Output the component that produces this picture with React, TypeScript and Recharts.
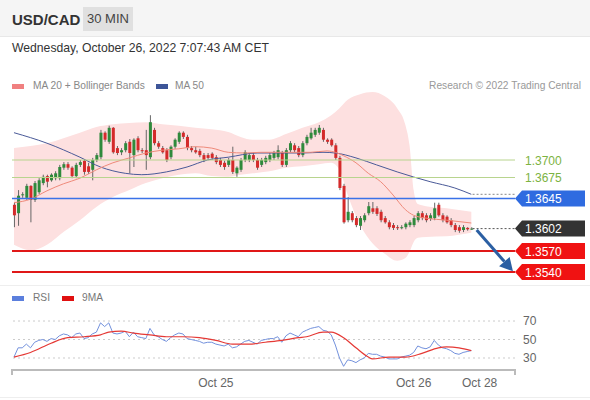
import { Area, Bar, ComposedChart, Line, ReferenceLine, XAxis, YAxis } from 'recharts'

// 30 min candles, Oct 24 -> Oct 26 07:00
const opens = [
  1.3636, 1.3624, 1.3650, 1.3646, 1.3663, 1.3643, 1.3654, 1.3667, 1.3677, 1.3671,
  1.3674, 1.3674, 1.3689, 1.3694, 1.3689, 1.3677, 1.3693, 1.3699, 1.3691, 1.3686,
  1.3700, 1.3704, 1.3739, 1.3726, 1.3746, 1.3717, 1.3711, 1.3714, 1.3726, 1.3707,
  1.3731, 1.3714, 1.3714, 1.3704, 1.3743, 1.3724, 1.3717, 1.3714, 1.3704, 1.3719,
  1.3726, 1.3739, 1.3733, 1.3717, 1.3714, 1.3713, 1.3707, 1.3707, 1.3709, 1.3704,
  1.3700, 1.3696, 1.3693, 1.3700, 1.3681, 1.3686, 1.3700, 1.3700, 1.3707, 1.3700,
  1.3693, 1.3697, 1.3700, 1.3703, 1.3704, 1.3710, 1.3693, 1.3714, 1.3721, 1.3717,
  1.3707, 1.3724, 1.3731, 1.3736, 1.3739, 1.3743, 1.3729, 1.3729, 1.3721, 1.3703,
  1.3663, 1.3614, 1.3624, 1.3617, 1.3606, 1.3614, 1.3624, 1.3631, 1.3631, 1.3626,
  1.3617, 1.3611, 1.3607, 1.3604, 1.3603, 1.3604, 1.3607, 1.3607, 1.3614, 1.3624,
  1.3621, 1.3616, 1.3617, 1.3636, 1.3621, 1.3619, 1.3614, 1.3607, 1.3604, 1.3600,
  1.3603, 1.3601,
]
const highs = [
  1.3639, 1.3657, 1.3654, 1.3666, 1.3664, 1.3670, 1.3674, 1.3679, 1.3679, 1.3681,
  1.3684, 1.3693, 1.3697, 1.3697, 1.3691, 1.3696, 1.3700, 1.3701, 1.3696, 1.3703,
  1.3710, 1.3743, 1.3741, 1.3749, 1.3747, 1.3720, 1.3717, 1.3727, 1.3730, 1.3731,
  1.3734, 1.3717, 1.3743, 1.3764, 1.3746, 1.3727, 1.3720, 1.3717, 1.3721, 1.3731,
  1.3741, 1.3741, 1.3736, 1.3720, 1.3719, 1.3716, 1.3710, 1.3710, 1.3711, 1.3707,
  1.3703, 1.3699, 1.3703, 1.3719, 1.3691, 1.3703, 1.3714, 1.3710, 1.3710, 1.3703,
  1.3703, 1.3706, 1.3710, 1.3713, 1.3721, 1.3713, 1.3717, 1.3727, 1.3724, 1.3720,
  1.3727, 1.3736, 1.3746, 1.3746, 1.3750, 1.3746, 1.3731, 1.3731, 1.3724, 1.3706,
  1.3666, 1.3647, 1.3627, 1.3620, 1.3620, 1.3624, 1.3640, 1.3640, 1.3634, 1.3629,
  1.3620, 1.3614, 1.3610, 1.3607, 1.3607, 1.3611, 1.3614, 1.3620, 1.3627, 1.3627,
  1.3624, 1.3624, 1.3639, 1.3639, 1.3624, 1.3621, 1.3617, 1.3610, 1.3607, 1.3607,
  1.3604, 1.3604,
]
const lows = [
  1.3604, 1.3606, 1.3646, 1.3643, 1.3611, 1.3640, 1.3651, 1.3664, 1.3661, 1.3669,
  1.3671, 1.3671, 1.3686, 1.3686, 1.3674, 1.3674, 1.3690, 1.3679, 1.3680, 1.3671,
  1.3697, 1.3701, 1.3726, 1.3723, 1.3709, 1.3707, 1.3707, 1.3711, 1.3681, 1.3690,
  1.3711, 1.3710, 1.3686, 1.3701, 1.3721, 1.3716, 1.3709, 1.3697, 1.3701, 1.3716,
  1.3723, 1.3730, 1.3714, 1.3711, 1.3709, 1.3704, 1.3697, 1.3700, 1.3700, 1.3694,
  1.3690, 1.3686, 1.3690, 1.3680, 1.3676, 1.3683, 1.3697, 1.3697, 1.3697, 1.3686,
  1.3690, 1.3694, 1.3697, 1.3700, 1.3701, 1.3690, 1.3690, 1.3711, 1.3711, 1.3704,
  1.3704, 1.3721, 1.3729, 1.3733, 1.3736, 1.3726, 1.3723, 1.3719, 1.3700, 1.3657,
  1.3609, 1.3611, 1.3611, 1.3604, 1.3600, 1.3611, 1.3621, 1.3623, 1.3620, 1.3611,
  1.3609, 1.3601, 1.3600, 1.3600, 1.3601, 1.3601, 1.3604, 1.3604, 1.3611, 1.3614,
  1.3611, 1.3613, 1.3614, 1.3619, 1.3611, 1.3609, 1.3604, 1.3597, 1.3596, 1.3597,
  1.3599, 1.3600,
]
const closes = [
  1.3621, 1.3649, 1.3651, 1.3663, 1.3643, 1.3667, 1.3671, 1.3676, 1.3669, 1.3679,
  1.3681, 1.3690, 1.3694, 1.3689, 1.3677, 1.3693, 1.3697, 1.3683, 1.3683, 1.3700,
  1.3707, 1.3739, 1.3729, 1.3746, 1.3711, 1.3710, 1.3714, 1.3724, 1.3710, 1.3729,
  1.3714, 1.3713, 1.3707, 1.3754, 1.3724, 1.3719, 1.3711, 1.3700, 1.3719, 1.3729,
  1.3739, 1.3733, 1.3717, 1.3714, 1.3711, 1.3707, 1.3700, 1.3703, 1.3703, 1.3697,
  1.3693, 1.3690, 1.3700, 1.3683, 1.3689, 1.3700, 1.3711, 1.3707, 1.3700, 1.3689,
  1.3700, 1.3703, 1.3707, 1.3710, 1.3714, 1.3693, 1.3714, 1.3724, 1.3714, 1.3707,
  1.3724, 1.3733, 1.3739, 1.3743, 1.3746, 1.3729, 1.3726, 1.3721, 1.3703, 1.3660,
  1.3611, 1.3626, 1.3614, 1.3607, 1.3617, 1.3621, 1.3634, 1.3626, 1.3623, 1.3614,
  1.3611, 1.3604, 1.3603, 1.3603, 1.3604, 1.3609, 1.3611, 1.3617, 1.3624, 1.3617,
  1.3614, 1.3621, 1.3631, 1.3621, 1.3614, 1.3611, 1.3607, 1.3600, 1.3599, 1.3604,
  1.3601, 1.3602,
]

// Bollinger bands (read at a subset of candles)
const bandIdx = [0, 4, 8, 12, 16, 20, 24, 28, 32, 36, 40, 44, 48, 52, 55, 58, 62, 66, 70, 74, 77, 79, 81, 84, 87, 90, 93, 95, 96, 97, 98, 100, 105, 111]
const bandUpper = [1.3717, 1.3720, 1.3724, 1.3731, 1.3739, 1.3747, 1.3751, 1.3753, 1.3754, 1.3751, 1.3749, 1.3746, 1.3744, 1.3740, 1.3733, 1.3729, 1.3729, 1.3737, 1.3746, 1.3754, 1.3764, 1.3774, 1.3786, 1.3794, 1.3797, 1.3791, 1.3774, 1.3750, 1.3721, 1.3657, 1.3637, 1.3634, 1.3631, 1.3626]
const bandLower = [1.3579, 1.3571, 1.3579, 1.3597, 1.3614, 1.3633, 1.3647, 1.3657, 1.3667, 1.3674, 1.3679, 1.3681, 1.3677, 1.3676, 1.3679, 1.3681, 1.3684, 1.3689, 1.3691, 1.3694, 1.3696, 1.3686, 1.3650, 1.3607, 1.3581, 1.3566, 1.3556, 1.3560, 1.3569, 1.3583, 1.3589, 1.3590, 1.3591, 1.3596]

const ma20Idx = [0, 4, 8, 12, 16, 20, 24, 28, 32, 36, 40, 44, 48, 52, 56, 60, 66, 72, 76, 78, 80, 83, 86, 89, 92, 95, 97, 100, 105, 111]
const ma20 = [1.3639, 1.3644, 1.3656, 1.3666, 1.3674, 1.3686, 1.3696, 1.3703, 1.3710, 1.3714, 1.3716, 1.3719, 1.3717, 1.3711, 1.3710, 1.3711, 1.3711, 1.3711, 1.3713, 1.3711, 1.3706, 1.3696, 1.3681, 1.3669, 1.3650, 1.3629, 1.3621, 1.3617, 1.3614, 1.3610]

const ma50Idx = [0, 8, 16, 21, 27, 31, 37, 42, 47, 52, 59, 70, 75, 78, 83, 88, 93, 101, 107, 111]
const ma50 = [1.3739, 1.3724, 1.3704, 1.3690, 1.3681, 1.3679, 1.3683, 1.3690, 1.3700, 1.3704, 1.3710, 1.3710, 1.3711, 1.3710, 1.3703, 1.3693, 1.3683, 1.3669, 1.3660, 1.3651]

const rsi = [
  31, 41, 41, 45, 41, 47, 49, 50, 48, 51, 50, 54, 56, 55, 52, 56, 57, 51, 52, 56,
  58, 68, 64, 68, 57, 56, 57, 59, 53, 58, 53, 52, 51, 62, 55, 53, 50, 48, 52, 55,
  57, 56, 51, 50, 49, 48, 46, 47, 47, 45, 44, 43, 45, 41, 42, 45, 48, 49, 47, 45,
  49, 50, 51, 51, 53, 47, 54, 57, 55, 53, 58, 60, 62, 63, 64, 60, 59, 55, 44, 30,
  21, 28, 27, 25, 28, 30, 35, 34, 34, 32, 31, 29, 29, 29, 31, 32, 33, 36, 43, 41,
  40, 42, 49, 44, 41, 40, 38, 35, 34, 36, 37, 38,
]
const ma9Idx = [0, 4, 9, 13, 17, 21, 23, 26, 29, 33, 37, 41, 45, 49, 53, 57, 61, 65, 69, 71, 75, 77, 80, 83, 86, 87, 91, 95, 99, 103, 105, 108, 111]
const ma9 = [31, 36, 46, 52, 53, 55, 58, 59, 57, 55, 53, 53, 52, 49, 45, 45, 47, 49, 52, 53, 58, 58, 52, 41, 31, 29, 31, 31, 35, 41, 42, 41, 38]

const tickIdx = [49, 97, 113]
const tickLabels = ['Oct 25', 'Oct 26', 'Oct 28']
const rsiTicks = [30, 50, 70]

const LAST = 111
const X_MIN = -0.485
const X_MAX = 121.6

const candles = opens.map((o, i) => ({ i, open: o, high: highs[i], low: lows[i], close: closes[i] }))
const bandData = bandIdx.map((i, k) => ({ i, band: [bandLower[k], bandUpper[k]] }))
const ma20Data = ma20Idx.map((i, k) => ({ i, v: ma20[k] }))
const ma50Data = ma50Idx.map((i, k) => ({ i, v: ma50[k] }))
const rsiData = rsi.map((v, i) => ({ i, v }))
const ma9Data = ma9Idx.map((i, k) => ({ i, v: ma9[k] }))

const FONT = "Arial, 'Liberation Sans', sans-serif"
const GREEN = '#2f8a3c'
const RED = '#d42a2a'

function Candle(props: any) {
  const { x, y, width, height } = props
  const d = props.payload || props
  const top = Math.min(y, y + height)
  const h = Math.abs(height)
  const cx = x + width / 2
  const k = d.high === d.low ? 0 : h / (d.high - d.low)
  const py = (v: number) => top + (d.high - v) * k
  const bTop = py(Math.max(d.open, d.close))
  const bBot = py(Math.min(d.open, d.close))
  const up = d.close >= d.open
  return (
    <g>
      <line x1={cx} x2={cx} y1={top} y2={top + h} stroke="#666" strokeWidth={1} />
      <rect x={cx - 1.5} y={bTop} width={3} height={Math.max(1, bBot - bTop)} fill={up ? GREEN : RED} />
    </g>
  )
}

const tag = (text: string, fill: string) => (p: any) => {
  const vb = p.viewBox
  const x0 = vb.x + vb.width
  const yc = vb.y
  return (
    <g>
      <polygon points={`${x0},${yc} ${x0 + 7},${yc - 8} ${x0 + 70},${yc - 8} ${x0 + 70},${yc + 8} ${x0 + 7},${yc + 8}`} fill={fill} />
      <text x={x0 + 10} y={yc + 4.5} fill="#fff" fontSize={12} fontFamily={FONT}>{text}</text>
    </g>
  )
}

const plainLabel = (text: string, color: string) => (p: any) => {
  const vb = p.viewBox
  return (
    <text x={vb.x + vb.width + 10} y={vb.y + 4.5} fill={color} fontSize={12} fontFamily={FONT}>{text}</text>
  )
}

const arrowShape = (p: any) => {
  const { x1, y1, x2, y2 } = p
  const a = Math.atan2(y2 - y1, x2 - x1)
  const hl = 13
  const hw = 7
  const bx = x2 - hl * Math.cos(a)
  const by = y2 - hl * Math.sin(a)
  const nx = -Math.sin(a) * hw
  const ny = Math.cos(a) * hw
  return (
    <g>
      <line x1={x1} y1={y1} x2={bx} y2={by} stroke="#2b5fa3" strokeWidth={3} />
      <polygon points={`${x2},${y2} ${bx + nx},${by + ny} ${bx - nx},${by - ny}`} fill="#2b5fa3" />
    </g>
  )
}

function Swatch({ left, top, color }: { left: number; top: number; color: string }) {
  return <div style={{ position: 'absolute', left, top, width: 12, height: 5, background: color }} />
}

function Txt({ left, top, size, color, children, right }: any) {
  return (
    <div style={{ position: 'absolute', left, right, top, fontSize: size, color, whiteSpace: 'nowrap', lineHeight: 1 }}>
      {children}
    </div>
  )
}

export default function App() {
  return (
    <div style={{ position: 'absolute', left: 0, top: 0, width: 590, height: 400, background: '#fff', overflow: 'hidden', fontFamily: FONT }}>
      <div style={{ position: 'absolute', left: 0, top: 0, width: 590, height: 36, background: '#f5f5f5', borderBottom: '1px solid #e8e8e8' }} />
      <Txt left={12} top={12} size={15} color="#333"><b>USD/CAD</b></Txt>
      <div style={{ position: 'absolute', left: 83, top: 7, width: 50, height: 24, background: '#e0e0e0', color: '#444', fontSize: 13, lineHeight: '24px', textAlign: 'center' }}>30 MIN</div>
      <Txt left={12} top={42} size={12.2} color="#333">Wednesday, October 26, 2022 7:07:43 AM CET</Txt>

      <Swatch left={12} top={84} color="#f08080" />
      <Txt left={33} top={81} size={10.2} color="#888">MA 20 + Bollinger Bands</Txt>
      <Swatch left={156} top={84} color="#3d5598" />
      <Txt left={175} top={81} size={10.2} color="#888">MA 50</Txt>
      <Txt right={9} top={81} size={10.2} color="#999">Research © 2022 Trading Central</Txt>

      <div style={{ position: 'absolute', left: 0, top: 80 }}>
        <ComposedChart width={590} height={215} data={candles} margin={{ top: 10, right: 75, bottom: 9, left: 12 }}>
          <XAxis dataKey="i" type="number" domain={[X_MIN, X_MAX]} allowDataOverflow hide />
          <YAxis type="number" domain={[1.352, 1.38]} allowDataOverflow hide />
          <Area data={bandData} dataKey="band" type="monotone" stroke="none" fill="#fde0e0" fillOpacity={1} isAnimationActive={false} />
          <Line data={ma50Data} dataKey="v" type="monotone" stroke="#4a5a98" strokeWidth={1} dot={false} isAnimationActive={false} />
          <Line data={ma20Data} dataKey="v" type="monotone" stroke="#ef8a7a" strokeWidth={1} dot={false} isAnimationActive={false} />
          <ReferenceLine y={1.37} stroke="#b8d48e" strokeWidth={1} label={plainLabel('1.3700', '#7cb342')} />
          <ReferenceLine y={1.3675} stroke="#b8d48e" strokeWidth={1} label={plainLabel('1.3675', '#7cb342')} />
          <ReferenceLine y={1.3645} stroke="#3a72e8" strokeWidth={1.5} label={tag('1.3645', '#2f6be0')} />
          <ReferenceLine y={1.357} stroke="#e01818" strokeWidth={2} label={tag('1.3570', '#f01212')} />
          <ReferenceLine y={1.354} stroke="#e01818" strokeWidth={2} label={tag('1.3540', '#f01212')} />
          <ReferenceLine y={closes[LAST]} stroke="none" label={tag(closes[LAST].toFixed(4), '#333')} />
          <ReferenceLine segment={[{ x: LAST + 0.3, y: closes[LAST] }, { x: X_MAX, y: closes[LAST] }]} stroke="#555" strokeDasharray="2 2" />
          <ReferenceLine segment={[{ x: LAST + 0.3, y: ma50[ma50.length - 1] }, { x: X_MAX, y: ma50[ma50.length - 1] }]} stroke="#888" strokeDasharray="2 2" />
          <Bar dataKey={(d: any) => [d.low, d.high]} barSize={3} shape={<Candle />} isAnimationActive={false} />
          <ReferenceLine segment={[{ x: 112.3, y: 1.36 }, { x: 121.1, y: 1.3541 }]} shape={arrowShape} />
        </ComposedChart>
      </div>

      <div style={{ position: 'absolute', left: 0, top: 285, width: 590, height: 1, background: '#eee' }} />

      <Swatch left={12} top={296} color="#5b7fdd" />
      <Txt left={33} top={293} size={10.2} color="#777">RSI</Txt>
      <Swatch left={62} top={296} color="#e01010" />
      <Txt left={82} top={293} size={10.2} color="#777">9MA</Txt>

      <div style={{ position: 'absolute', left: 0, top: 300 }}>
        <ComposedChart width={590} height={100} margin={{ top: 16.4, right: 0, bottom: 0, left: 12 }}>
          <XAxis
            dataKey="i"
            type="number"
            domain={[X_MIN, X_MAX]}
            allowDataOverflow
            ticks={tickIdx}
            interval={0}
            tickFormatter={(v: number) => tickLabels[tickIdx.indexOf(v)]}
            axisLine={{ stroke: '#bbb', strokeWidth: 2 }}
            tickLine={false}
            height={30}
            tick={{ fontSize: 12, fill: '#666', fontFamily: FONT }}
          />
          <YAxis
            orientation="right"
            type="number"
            domain={[17, 75]}
            allowDataOverflow
            ticks={rsiTicks}
            interval={0}
            axisLine={false}
            tickLine={false}
            width={75}
            tick={{ fontSize: 12, fill: '#666', fontFamily: FONT }}
          />
          {rsiTicks.map((v) => (
            <ReferenceLine key={v} y={v} stroke="#ccc" strokeDasharray="2 3" />
          ))}
          <Line data={rsiData} dataKey="v" type="linear" stroke="#7391dc" strokeWidth={1} dot={false} isAnimationActive={false} />
          <Line data={ma9Data} dataKey="v" type="monotone" stroke="#e53935" strokeWidth={1.2} dot={false} isAnimationActive={false} />
        </ComposedChart>
      </div>
      <div style={{ position: 'absolute', left: 11, top: 369, width: 2, height: 6, background: '#bbb' }} />
      <div style={{ position: 'absolute', left: 514, top: 369, width: 2, height: 6, background: '#bbb' }} />
      <div style={{ position: 'absolute', left: 0, top: 397, width: 590, height: 1, background: '#eee' }} />
    </div>
  )
}
